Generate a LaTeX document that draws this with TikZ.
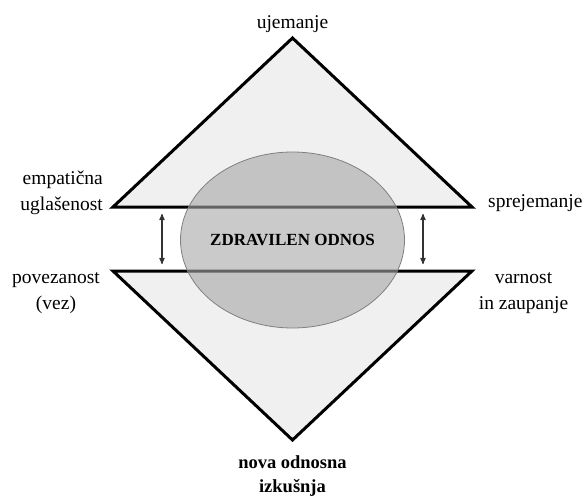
\documentclass[tikz,border=0pt]{standalone}
\usepackage{fontspec}
\setmainfont{Liberation Serif}
\usetikzlibrary{arrows, calc, shapes.geometric}

\tikzset{
  lbl/.style={font=\fontsize{19.5}{26}\selectfont, inner sep=0pt, align=center},
  half/.style={draw=black, line width=3pt, fill=black!6},
  odnos/.style={ellipse, draw=black!50, line width=0.8pt, fill=black!35, fill opacity=0.6,
    text opacity=1, minimum width=224pt, minimum height=176pt, inner sep=0pt, inner xsep=-12pt,
    font=\fontsize{17}{20}\selectfont\bfseries},
  link/.style={<->, >=stealth', line width=1.2pt, black!80}
}

\begin{document}
\begin{tikzpicture}[x=1pt, y=-1pt]
    \useasboundingbox (0,0) rectangle (584,496);
    \coordinate (v_1) at (113,207);
    \coordinate (v_2) at (472,207);
    \coordinate (v_3) at (292.5,38);
    \coordinate (v_4) at (113,271);
    \coordinate (v_5) at (472,271);
    \coordinate (v_6) at (292.5,440);
    \draw[half] (v_1) -- (v_3) -- (v_2) -- cycle;
    \draw[half] (v_4) -- (v_6) -- (v_5) -- cycle;
    \node[odnos] (zo) at (292.5,240) {ZDRAVILEN ODNOS};
    % arrows between the two halves
    \coordinate (a_1) at (162,214);
    \coordinate (a_2) at (162,264);
    \coordinate (a_3) at (423,214);
    \coordinate (a_4) at (423,264);
    \draw[link] (a_1) -- (a_2);
    \draw[link] (a_3) -- (a_4);
    % labels
    \node[lbl, anchor=base] (uj) at (292.5,28) {ujemanje};
    \node[lbl, anchor=east, align=right] (emp) at (103,193) {empatična\\uglašenost};
    \node[lbl] (pov) at (56,293) {povezanost\\(vez)};
    \node[lbl, anchor=base west] (spr) at (488,207) {sprejemanje};
    \node[lbl] (var) at (523.5,293) {varnost\\in zaupanje};
    \node[lbl, font=\fontsize{18.5}{24}\selectfont\bfseries] (nov) at (292.5,476) {nova odnosna\\izkušnja};
\end{tikzpicture}
\end{document}
